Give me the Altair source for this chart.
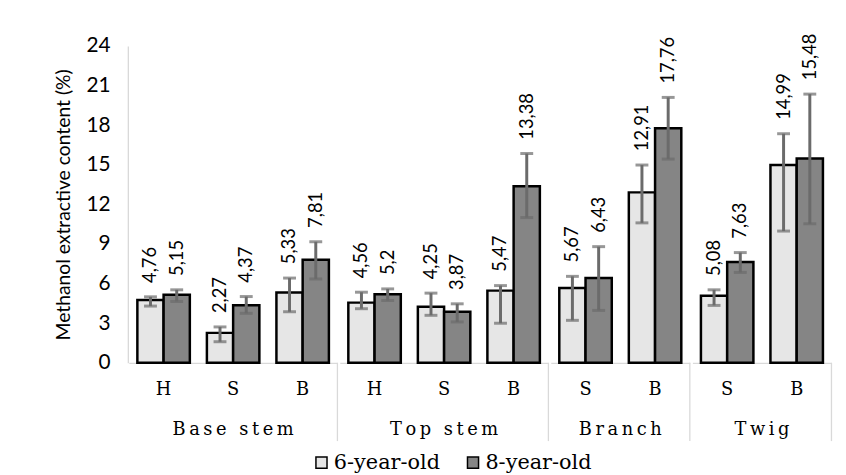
import altair as alt
import pandas as pd

groups = ["Base stem", "Base stem", "Base stem", "Top stem", "Top stem", "Top stem",
          "Branch", "Branch", "Twig", "Twig"]
parts = ["H", "S", "B", "H", "S", "B", "S", "B", "S", "B"]
ages = ["6-year-old", "8-year-old"]
group_order = ["Base stem", "Top stem", "Branch", "Twig"]
part_order = ["H", "S", "B"]

mean_6 = [4.76, 2.27, 5.33, 4.56, 4.25, 5.47, 5.67, 12.91, 5.08, 14.99]
mean_8 = [5.15, 4.37, 7.81, 5.2, 3.87, 13.38, 6.43, 17.76, 7.63, 15.48]
low_6 = [4.30, 1.60, 3.87, 4.10, 3.60, 3.00, 3.22, 10.60, 4.35, 9.98]
high_6 = [5.00, 2.72, 6.42, 5.35, 5.28, 5.85, 6.55, 14.98, 5.53, 17.35]
low_8 = [4.65, 3.75, 6.35, 4.72, 3.10, 11.00, 3.97, 15.43, 6.85, 10.53]
high_8 = [5.53, 5.02, 9.17, 5.60, 4.47, 15.85, 8.80, 20.10, 8.35, 20.35]

rows = []
for i in range(len(parts)):
    for age, m, lo, hi in ((ages[0], mean_6, low_6, high_6), (ages[1], mean_8, low_8, high_8)):
        rows.append({"group": groups[i], "part": parts[i], "age": age,
                     "mean": m[i], "lo": lo[i], "hi": hi[i]})
df = pd.DataFrame(rows)

base = alt.Chart(df).transform_calculate(
    label="replace(toString(datum.mean), '.', ',')"
)

xs = alt.Scale(paddingInner=0, paddingOuter=0)
x_axis = alt.Axis(title=None, labelAngle=0, labelFont="DejaVu Serif", labelFontSize=18,
                  labelColor="#000000", labelPadding=18, ticks=False,
                  domainColor="#d9d9d9", domainWidth=1.3)
x = alt.X("part:N", sort=part_order, scale=xs, axis=x_axis)
xo = alt.XOffset("age:N", sort=ages, scale=alt.Scale(paddingOuter=0.325, paddingInner=0))
ys = alt.Scale(domain=[0, 24], nice=False)
y_axis = alt.Axis(values=list(range(0, 25, 3)), title="Methanol extractive content (%)",
                  titleFont="Lato", titleFontSize=19.5, titleFontWeight="normal",
                  titleColor="#000000", titlePadding=13, labelOverlap=False,
                  labelFont="Lato", labelFontSize=21, labelColor="#000000",
                  labelPadding=18, ticks=False, grid=False,
                  domainColor="#d9d9d9", domainWidth=1.3)
y = alt.Y("mean:Q", scale=ys, axis=y_axis)

bars = base.mark_bar(stroke="#000000", strokeWidth=2.5).encode(
    x=x, xOffset=xo, y=y,
    fill=alt.Fill("age:N", sort=ages,
                  scale=alt.Scale(domain=ages, range=["#e6e6e6", "#858585"]),
                  legend=alt.Legend(title=None, orient="none", direction="horizontal",
                                    legendX=184, legendY=410,
                                    labelFont="DejaVu Serif", labelFontSize=21))
)
err = base.mark_rule(color="#6b6b6b", strokeWidth=3).encode(
    x=x, xOffset=xo, y=alt.Y("lo:Q", scale=ys, axis=y_axis), y2="hi:Q")
cap_hi = base.mark_tick(color="#6b6b6b", thickness=3, size=13).encode(
    x=x, xOffset=xo, y=alt.Y("hi:Q", scale=ys, axis=y_axis))
cap_lo = base.mark_tick(color="#6b6b6b", thickness=3, size=13).encode(
    x=x, xOffset=xo, y=alt.Y("lo:Q", scale=ys, axis=y_axis))
text = base.mark_text(angle=270, align="left", baseline="middle", dx=14,
                      font="Lato", fontSize=18.5, color="#000000").encode(
    x=x, xOffset=xo, y=alt.Y("hi:Q", scale=ys, axis=y_axis), text="label:N")

sep_left = base.transform_aggregate(n="count()", groupby=["group"]).mark_rule(
    x=0, y=320, y2=399, color="#d9d9d9", strokeWidth=1.3).encode(opacity=alt.value(1))
sep_right = base.transform_filter(
    "datum.part == 'B' && datum.age == '6-year-old'").mark_rule(
    y=320, y2=399, color="#d9d9d9", strokeWidth=1.3).encode(
    x=alt.X("part:N", sort=part_order, scale=xs, bandPosition=1, axis=x_axis))

layer = alt.layer(bars, err, cap_hi, cap_lo, text, sep_left, sep_right).properties(
    width={"step": 70.2, "for": "position"}, height=320)

chart = layer.facet(
    column=alt.Column("group:N", sort=group_order,
                      header=alt.Header(title=None, labelOrient="bottom",
                                        labelFont="DejaVu Serif", labelFontSize=18,
                                        labelColor="#000000", labelPadding=-21,
                                        labelExpr="join(split(datum.label, ''), '\u2009')")),
    spacing=0,
).resolve_scale(x="independent", xOffset="independent").properties(
    padding={"left": 45, "top": 23, "right": 5, "bottom": 5}
).configure(font="DejaVu Serif").configure_view(stroke=None).configure_facet(
    spacing=0).configure_legend(
    symbolType="square", symbolSize=125, symbolStrokeColor="#000000",
    symbolStrokeWidth=1.5, labelFont="DejaVu Serif", labelFontSize=21,
    labelColor="#000000", labelOffset=2, columnPadding=22
)

chart.save("out.html", embed_options={"renderer": "svg", "actions": False})
